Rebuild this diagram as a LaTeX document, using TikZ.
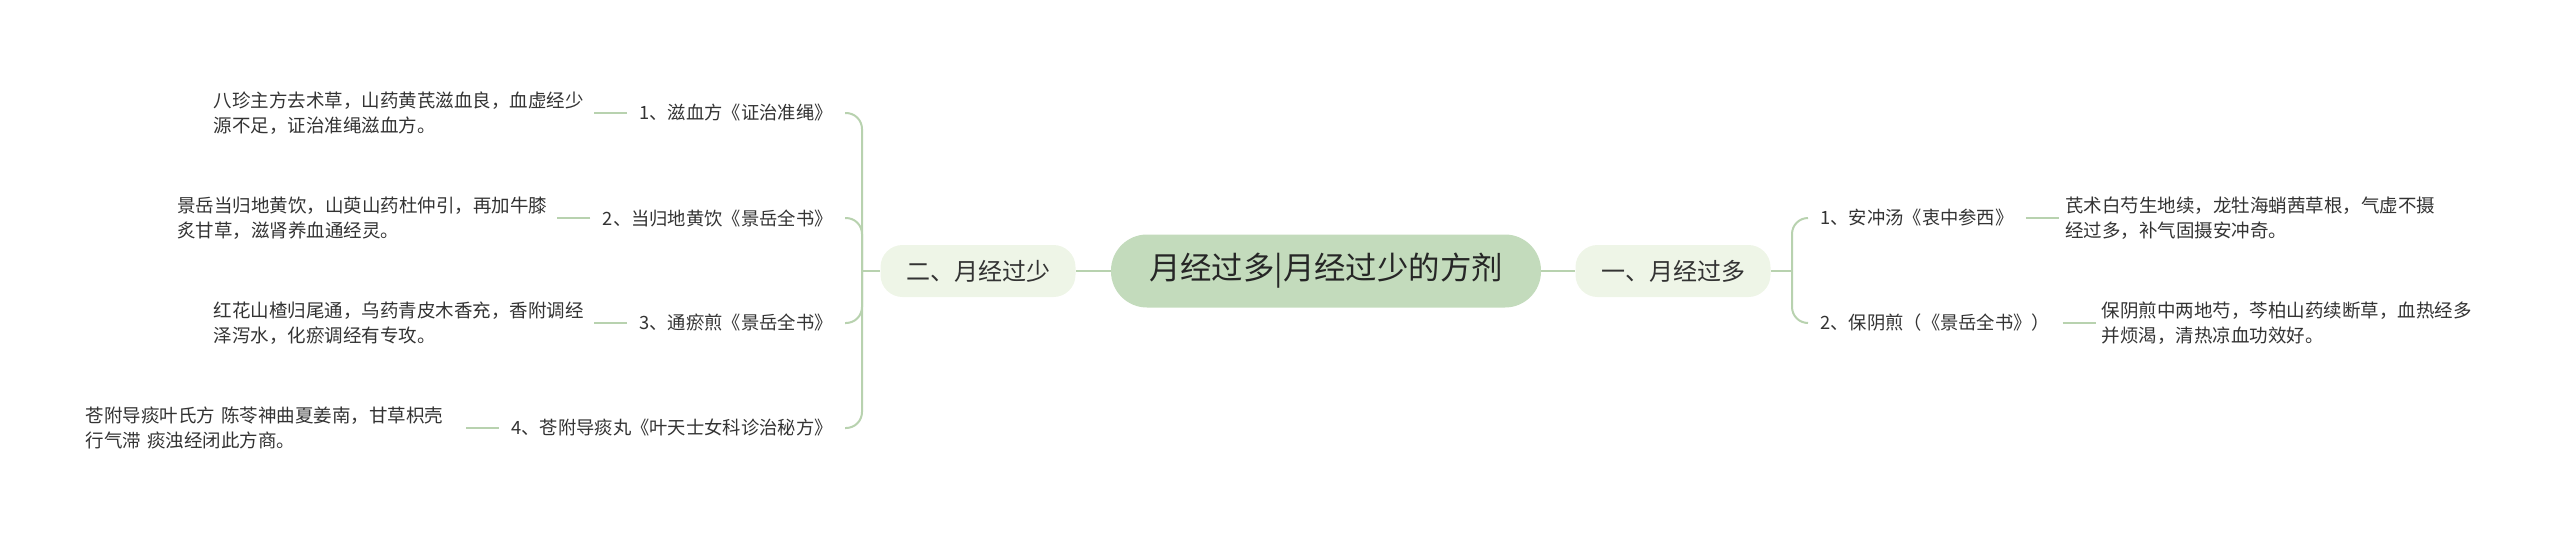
\documentclass[tikz,border=0pt]{standalone}
\usepackage{fontspec}
\setmainfont{Noto Sans CJK SC}
\usetikzlibrary{positioning}
\definecolor{rootgreen}{HTML}{C3DBBC}
\definecolor{palegreen}{HTML}{EEF5E7}
\definecolor{linegreen}{HTML}{B8D2AF}
\definecolor{txt}{HTML}{333333}

\begin{document}
\begin{tikzpicture}[x=0.5pt, y=-0.5pt,
  root/.style={fill=rootgreen, rounded corners=18pt, minimum width=215pt, minimum height=36.5pt, font=\fontsize{15.7}{18}\selectfont, text=black!85},
  topic/.style={fill=palegreen, rounded corners=11pt, minimum width=97.5pt, minimum height=26pt, font=\fontsize{12}{14}\selectfont, text=txt},
  sub/.style={inner xsep=6pt, inner ysep=2pt, font=\fontsize{9.15}{12}\selectfont, text=txt},
  leaf/.style={inner xsep=3pt, inner ysep=2pt, text width=187pt, align=left, font=\fontsize{9.25}{12.3}\selectfont, text=txt},
  link/.style={draw=linegreen, line width=1pt},
  node distance=16.5pt]
\useasboundingbox (0,0) rectangle (2560,541);

\node[root] (root) at (1326,271) {月经过多|月经过少的方剂};
\node[topic] (tR) at (1673,271) {一、月经过多};
\node[topic] (tL) at (978,271) {二、月经过少};
\coordinate (forkR) at (1792,271);
\coordinate (forkL) at (862,271);

% right side
\node[sub, anchor=west] (r1) at (1808,218) {1、安冲汤《衷中参西》};
\node[leaf, right=of r1] (r1t) {芪术白芍生地续，龙牡海蛸茜草根，气虚不摄\\经过多，补气固摄安冲奇。};
\node[sub, anchor=west] (r2) at (1808,323) {2、保阴煎（《景岳全书》）};
\node[leaf, right=of r2] (r2t) {保阴煎中两地芍，芩柏山药续断草，血热经多\\并烦渴，清热凉血功效好。};

% left side
\node[sub, anchor=east] (l1) at (845,113) {1、滋血方《证治准绳》};
\node[leaf, left=of l1] (l1t) {八珍主方去术草，山药黄芪滋血良，血虚经少\\源不足，证治准绳滋血方。};
\node[sub, anchor=east] (l2) at (845,218) {2、当归地黄饮《景岳全书》};
\node[leaf, left=of l2] (l2t) {景岳当归地黄饮，山萸山药杜仲引，再加牛膝\\炙甘草，滋肾养血通经灵。};
\node[sub, anchor=east] (l3) at (845,323) {3、通瘀煎《景岳全书》};
\node[leaf, left=of l3] (l3t) {红花山楂归尾通，乌药青皮木香充，香附调经\\泽泻水，化瘀调经有专攻。};
\node[sub, anchor=east] (l4) at (845,428) {4、苍附导痰丸《叶天士女科诊治秘方》};
\node[leaf, left=of l4] (l4t) {苍附导痰叶氏方 陈苓神曲夏姜南，甘草枳壳\\行气滞 痰浊经闭此方商。};

\draw[link] (root.east) -- (tR.west);
\draw[link] (root.west) -- (tL.east);
\draw[link] (tR.east) -- (forkR);
\draw[link] (tL.west) -- (forkL);
\foreach \i in {r1,r2}
  \draw[link, rounded corners=8pt] (forkR) |- (\i.west);
\foreach \i in {l1,l2,l3,l4}
  \draw[link, rounded corners=8pt] (forkL) |- (\i.east);
\foreach \a/\b in {r1/r1t,r2/r2t}
  \draw[link] (\a.east) -- (\b.west);
\foreach \a/\b in {l1/l1t,l2/l2t,l3/l3t,l4/l4t}
  \draw[link] (\a.west) -- (\b.east);
\end{tikzpicture}
\end{document}
